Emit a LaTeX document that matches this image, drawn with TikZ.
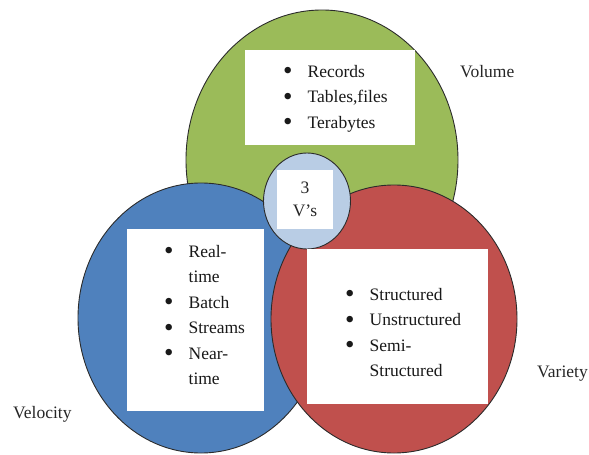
\documentclass[tikz,border=0pt]{standalone}
\usepackage{fontspec}
\setmainfont{Liberation Serif}
\usepackage{tikz}
\usetikzlibrary{shapes.geometric, positioning}
\definecolor{vgreen}{HTML}{9BBB59}
\definecolor{vblue}{HTML}{4F81BD}
\definecolor{vred}{HTML}{C0504D}
\definecolor{vlight}{HTML}{B9CDE5}
\definecolor{vline}{HTML}{2B2B2B}
\newcommand{\vfont}{\fontsize{17.5}{25.5}\selectfont}
\newcommand{\vbul}{\raisebox{-2.6pt}{\fontsize{27}{27}\selectfont\textbullet}}
\tikzset{
  vcirc/.style={ellipse, draw=vline, line width=0.9pt, inner sep=0pt},
  wbox/.style={rectangle, fill=white, draw=none, inner sep=0pt},
  lst/.style={anchor=base west, inner sep=0pt, font=\vfont, text=black!90},
  lbl/.style={anchor=base west, inner sep=0pt, font=\vfont, text=black!85},
}

\begin{document}
\begin{tikzpicture}[x=1pt, y=-1pt]
  \useasboundingbox (0,0) rectangle (589,455);

  %% Circles
  \node[vcirc, fill=vgreen, minimum width=272pt, minimum height=300pt] (volume) at (322,160) {};
  \node[vcirc, fill=vblue, minimum width=246pt, minimum height=270pt] (velocity) at (201,318) {};
  \node[vcirc, fill=vred, minimum width=246pt, minimum height=268pt] (variety) at (394,319) {};
  \node[vcirc, fill=vlight, minimum width=87pt, minimum height=96pt] (core) at (307,201) {};

  %% White boxes
  \node[wbox, minimum width=170pt, minimum height=95pt] (volbox) at (330,97.5) {};
  \node[wbox, minimum width=137pt, minimum height=182pt] (velbox) at (195.5,320) {};
  \node[wbox, minimum width=181pt, minimum height=155pt] (varbox) at (397.5,326.5) {};
  \node[wbox, minimum width=56pt, minimum height=59pt, align=center, font=\vfont,
        text=black!85] (corebox) at (305,199.5) {3\\[-2pt]V's};

  %% Lists
  \node[lst] (vollist) at (283,77) {\begin{tabular}[t]{@{}l@{\hspace{15pt}}l@{}}
    \vbul & Records\\ \vbul & Tables,files\\ \vbul & Terabytes
  \end{tabular}};
  \node[lst] (vellist) at (164,257) {\begin{tabular}[t]{@{}l@{\hspace{15pt}}l@{}}
    \vbul & Real-\\ & time\\ \vbul & Batch\\ \vbul & Streams\\
    \vbul & Near-\\ & time
  \end{tabular}};
  \node[lst] (varlist) at (345,300) {\begin{tabular}[t]{@{}l@{\hspace{15pt}}l@{}}
    \vbul & Structured\\ \vbul & Unstructured\\ \vbul & Semi-\\
    & Structured
  \end{tabular}};

  %% Labels
  \node[lbl] (vollbl) at (460,77) {Volume};
  \node[lbl] (varlbl) at (537,377) {Variety};
  \node[lbl] (vellbl) at (13,418) {Velocity};
\end{tikzpicture}
\end{document}
